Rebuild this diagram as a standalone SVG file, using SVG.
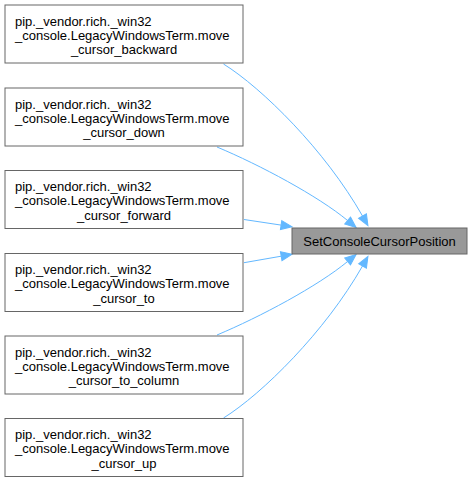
<svg xmlns="http://www.w3.org/2000/svg" width="472" height="483" viewBox="0 0 472 483">
<style>
.box{fill:#ffffff;stroke:#666666;stroke-width:1}
.tgt{fill:#999999;stroke:#666666;stroke-width:1}
.t{font-family:"Liberation Sans",Arial,sans-serif;font-size:13px;fill:#000000}
.m{text-anchor:middle}
.e{fill:none;stroke:#63b8ff;stroke-width:1;marker-end:url(#ah)}
</style>
<defs>
<marker id="ah" markerUnits="userSpaceOnUse" markerWidth="12" markerHeight="10" refX="0" refY="5" orient="auto" overflow="visible">
<polygon points="0,0.5 11,5 0,9.5" fill="#63b8ff" stroke="#63b8ff" stroke-width="1"/>
</marker>
</defs>
<rect width="472" height="483" fill="#ffffff"/>
<g id="edges">
<path class="e" d="M223.5,64 C262,88 325,150 362.5,216"/>
<path class="e" d="M217,147 C260,165 318,196 347.6,220.5"/>
<path class="e" d="M244,219.5 L281.1,225.1"/>
<path class="e" d="M244,262.7 L281.2,256.2"/>
<path class="e" d="M217,335 C260,317 318,286 347.6,261.5"/>
<path class="e" d="M223.5,418 C262,394 325,332 362.5,266"/>
</g>
<g id="target">
<rect class="tgt" x="292" y="228" width="175" height="26"/>
<text class="t m" x="379.5" y="245.5">SetConsoleCursorPosition</text>
</g>
<g id="n1">
<rect class="box" x="5" y="5" width="238" height="58"/>
<text class="t" x="15" y="25.5">pip._vendor.rich._win32</text>
<text class="t" x="15" y="39.5">_console.LegacyWindowsTerm.move</text>
<text class="t m" x="124" y="54">_cursor_backward</text>
</g>
<g id="n2">
<rect class="box" x="5" y="88" width="238" height="58"/>
<text class="t" x="15" y="108.5">pip._vendor.rich._win32</text>
<text class="t" x="15" y="122.5">_console.LegacyWindowsTerm.move</text>
<text class="t m" x="124" y="137">_cursor_down</text>
</g>
<g id="n3">
<rect class="box" x="5" y="170.5" width="238" height="58"/>
<text class="t" x="15" y="191">pip._vendor.rich._win32</text>
<text class="t" x="15" y="205">_console.LegacyWindowsTerm.move</text>
<text class="t m" x="124" y="219.5">_cursor_forward</text>
</g>
<g id="n4">
<rect class="box" x="5" y="253.5" width="238" height="58"/>
<text class="t" x="15" y="274">pip._vendor.rich._win32</text>
<text class="t" x="15" y="288">_console.LegacyWindowsTerm.move</text>
<text class="t m" x="124" y="302.5">_cursor_to</text>
</g>
<g id="n5">
<rect class="box" x="5" y="336" width="238" height="58"/>
<text class="t" x="15" y="356.5">pip._vendor.rich._win32</text>
<text class="t" x="15" y="370.5">_console.LegacyWindowsTerm.move</text>
<text class="t m" x="124" y="385">_cursor_to_column</text>
</g>
<g id="n6">
<rect class="box" x="5" y="418.5" width="238" height="58"/>
<text class="t" x="15" y="439">pip._vendor.rich._win32</text>
<text class="t" x="15" y="453">_console.LegacyWindowsTerm.move</text>
<text class="t m" x="124" y="467.5">_cursor_up</text>
</g>
</svg>
